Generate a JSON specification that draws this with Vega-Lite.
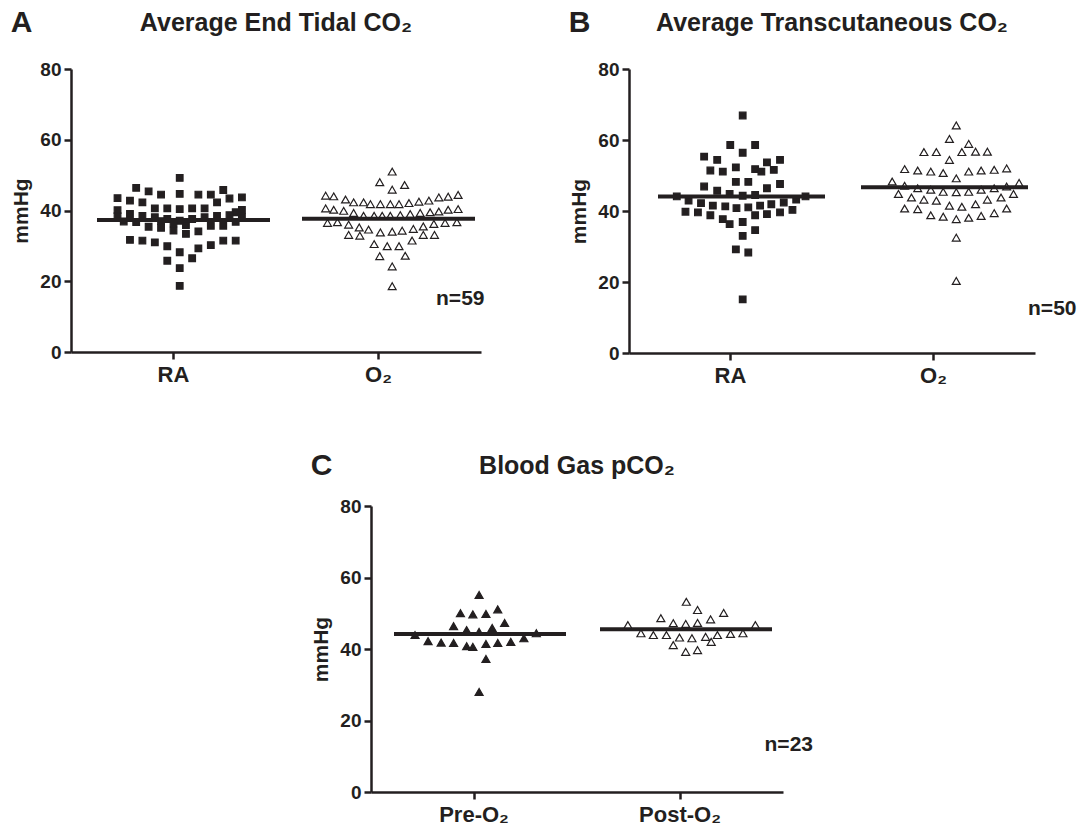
{
  "$schema": "https://vega.github.io/schema/vega-lite/v6.json",
  "background": "white",
  "padding": {"left": 10, "top": 8, "right": 4, "bottom": 4},
  "spacing": 65,
  "datasets": {
    "A": [
      {"group":"RA","k":1,"v":49.2},{"group":"RA","k":-6,"v":46.4},{"group":"RA","k":-4,"v":45.4},{"group":"RA","k":8,"v":45.8},
      {"group":"RA","k":-2,"v":44.5},{"group":"RA","k":1,"v":44.7},{"group":"RA","k":4,"v":44.5},{"group":"RA","k":6,"v":44.5},
      {"group":"RA","k":9,"v":43.4},{"group":"RA","k":11,"v":43.7},{"group":"RA","k":-9,"v":43.5},{"group":"RA","k":-7,"v":42.8},
      {"group":"RA","k":-5,"v":42.3},{"group":"RA","k":7,"v":42.3},{"group":"RA","k":-3,"v":40.6},{"group":"RA","k":-1,"v":40.6},
      {"group":"RA","k":1,"v":40.4},{"group":"RA","k":3,"v":40.6},{"group":"RA","k":5,"v":40.6},{"group":"RA","k":-9,"v":40.1},
      {"group":"RA","k":11,"v":40.2},{"group":"RA","k":10,"v":39.5},{"group":"RA","k":-7,"v":39.0},{"group":"RA","k":-5,"v":38.5},
      {"group":"RA","k":-3,"v":38.1},{"group":"RA","k":-1,"v":37.6},{"group":"RA","k":1,"v":37.1},{"group":"RA","k":3,"v":37.6},
      {"group":"RA","k":5,"v":38.1},{"group":"RA","k":7,"v":38.5},{"group":"RA","k":9,"v":38.7},{"group":"RA","k":-9,"v":38.4},
      {"group":"RA","k":-6,"v":36.7},{"group":"RA","k":-4,"v":35.4},{"group":"RA","k":-2,"v":35.1},{"group":"RA","k":0,"v":34.3},
      {"group":"RA","k":2,"v":33.4},{"group":"RA","k":4,"v":34.1},{"group":"RA","k":6,"v":35.7},{"group":"RA","k":8,"v":35.7},
      {"group":"RA","k":-7,"v":31.7},{"group":"RA","k":-5,"v":31.5},{"group":"RA","k":-3,"v":31.0},{"group":"RA","k":-1,"v":29.9},
      {"group":"RA","k":1,"v":28.2},{"group":"RA","k":4,"v":29.3},{"group":"RA","k":6,"v":30.2},{"group":"RA","k":8,"v":31.5},
      {"group":"RA","k":10,"v":31.5},{"group":"RA","k":-1,"v":25.8},{"group":"RA","k":3,"v":26.5},{"group":"RA","k":1,"v":23.7},
      {"group":"RA","k":1,"v":18.7},{"group":"RA","k":11,"v":38.2},{"group":"RA","k":-8,"v":36.9},{"group":"RA","k":0,"v":36.4},
      {"group":"RA","k":2,"v":35.9},{"group":"RA","k":-2,"v":37.0},{"group":"RA","k":10,"v":36.8},
      {"group":"O₂","k":2.2,"v":51.0},{"group":"O₂","k":0.2,"v":48.0},{"group":"O₂","k":2.2,"v":45.9},{"group":"O₂","k":4.2,"v":47.2},
      {"group":"O₂","k":-8.5,"v":44.2},{"group":"O₂","k":-7.2,"v":44.0},{"group":"O₂","k":-5.3,"v":43.1},{"group":"O₂","k":-4.0,"v":42.3},
      {"group":"O₂","k":-2.4,"v":42.3},{"group":"O₂","k":-1.3,"v":41.8},{"group":"O₂","k":0.3,"v":41.8},{"group":"O₂","k":1.9,"v":41.8},
      {"group":"O₂","k":3.3,"v":41.8},{"group":"O₂","k":4.9,"v":42.1},{"group":"O₂","k":6.5,"v":42.5},{"group":"O₂","k":8.1,"v":42.8},
      {"group":"O₂","k":9.7,"v":43.7},{"group":"O₂","k":11.2,"v":43.9},{"group":"O₂","k":12.8,"v":44.4},
      {"group":"O₂","k":-8.5,"v":40.6},{"group":"O₂","k":-7.2,"v":40.2},{"group":"O₂","k":-5.6,"v":39.9},{"group":"O₂","k":-4.0,"v":39.3},
      {"group":"O₂","k":-2.4,"v":38.5},{"group":"O₂","k":-0.7,"v":38.5},{"group":"O₂","k":0.6,"v":38.5},{"group":"O₂","k":1.9,"v":38.5},
      {"group":"O₂","k":3.5,"v":38.7},{"group":"O₂","k":5.1,"v":39.0},{"group":"O₂","k":6.7,"v":39.3},{"group":"O₂","k":8.3,"v":39.5},
      {"group":"O₂","k":9.7,"v":39.7},{"group":"O₂","k":11.2,"v":40.2},{"group":"O₂","k":12.8,"v":40.4},
      {"group":"O₂","k":-8.2,"v":36.5},{"group":"O₂","k":-6.6,"v":36.7},{"group":"O₂","k":-4.8,"v":36.0},{"group":"O₂","k":-3.1,"v":35.2},
      {"group":"O₂","k":-1.6,"v":34.6},{"group":"O₂","k":0.3,"v":33.8},{"group":"O₂","k":2.2,"v":34.0},{"group":"O₂","k":3.8,"v":34.3},
      {"group":"O₂","k":5.6,"v":34.8},{"group":"O₂","k":7.2,"v":35.5},{"group":"O₂","k":8.9,"v":36.2},{"group":"O₂","k":10.7,"v":36.5},
      {"group":"O₂","k":12.6,"v":36.7},
      {"group":"O₂","k":-4.8,"v":33.1},{"group":"O₂","k":-3.0,"v":32.9},{"group":"O₂","k":7.2,"v":33.1},{"group":"O₂","k":9.0,"v":33.1},
      {"group":"O₂","k":-0.7,"v":30.5},{"group":"O₂","k":1.4,"v":29.9},{"group":"O₂","k":3.3,"v":29.9},{"group":"O₂","k":5.4,"v":31.5},
      {"group":"O₂","k":0.2,"v":27.1},{"group":"O₂","k":4.3,"v":27.2},{"group":"O₂","k":2.2,"v":24.2},{"group":"O₂","k":2.2,"v":18.6}
    ],
    "B": [
      {"group":"RA","k":1.8,"v":66.9},{"group":"RA","k":-0.2,"v":58.6},{"group":"RA","k":3.8,"v":58.6},{"group":"RA","k":1.8,"v":56.4},
      {"group":"RA","k":-4.4,"v":55.3},{"group":"RA","k":-2.3,"v":54.4},{"group":"RA","k":5.7,"v":53.7},{"group":"RA","k":7.8,"v":54.4},
      {"group":"RA","k":-3.4,"v":51.4},{"group":"RA","k":-1.4,"v":51.1},{"group":"RA","k":0.7,"v":52.3},{"group":"RA","k":3.8,"v":51.8},
      {"group":"RA","k":4.8,"v":51.1},{"group":"RA","k":6.8,"v":51.6},{"group":"RA","k":0.7,"v":48.2},{"group":"RA","k":2.7,"v":48.2},
      {"group":"RA","k":-4.4,"v":46.9},{"group":"RA","k":7.8,"v":47.6},{"group":"RA","k":5.7,"v":46.4},{"group":"RA","k":-2.3,"v":45.7},
      {"group":"RA","k":-8.8,"v":44.1},{"group":"RA","k":11.9,"v":44.1},{"group":"RA","k":-0.3,"v":44.8},{"group":"RA","k":1.8,"v":44.3},
      {"group":"RA","k":3.8,"v":44.5},{"group":"RA","k":-6.9,"v":42.9},{"group":"RA","k":-4.9,"v":42.2},{"group":"RA","k":10.4,"v":43.2},
      {"group":"RA","k":8.4,"v":42.4},{"group":"RA","k":-7.4,"v":39.8},{"group":"RA","k":-5.4,"v":39.6},{"group":"RA","k":-3.0,"v":41.5},
      {"group":"RA","k":-1.0,"v":41.3},{"group":"RA","k":0.8,"v":40.8},{"group":"RA","k":2.7,"v":41.0},{"group":"RA","k":4.6,"v":41.5},
      {"group":"RA","k":6.4,"v":41.9},{"group":"RA","k":-3.4,"v":38.8},{"group":"RA","k":3.8,"v":38.8},{"group":"RA","k":5.7,"v":39.1},
      {"group":"RA","k":7.8,"v":39.6},{"group":"RA","k":9.8,"v":40.3},{"group":"RA","k":-1.4,"v":37.7},{"group":"RA","k":-0.3,"v":36.3},
      {"group":"RA","k":1.8,"v":36.9},{"group":"RA","k":3.8,"v":34.6},{"group":"RA","k":1.8,"v":33.0},{"group":"RA","k":0.7,"v":29.2},
      {"group":"RA","k":2.7,"v":28.3},{"group":"RA","k":1.8,"v":15.1},
      {"group":"O₂","k":3.5,"v":64.1},{"group":"O₂","k":2.4,"v":60.3},{"group":"O₂","k":5.5,"v":58.9},{"group":"O₂","k":-1.7,"v":56.6},
      {"group":"O₂","k":0.3,"v":56.6},{"group":"O₂","k":4.4,"v":56.6},{"group":"O₂","k":6.6,"v":56.7},{"group":"O₂","k":8.5,"v":56.7},
      {"group":"O₂","k":2.4,"v":54.4},{"group":"O₂","k":-4.8,"v":51.8},{"group":"O₂","k":-2.7,"v":51.4},{"group":"O₂","k":-0.6,"v":51.1},
      {"group":"O₂","k":1.4,"v":50.7},{"group":"O₂","k":5.5,"v":51.1},{"group":"O₂","k":7.5,"v":51.4},{"group":"O₂","k":9.6,"v":51.6},
      {"group":"O₂","k":11.6,"v":52.0},{"group":"O₂","k":3.5,"v":49.2},{"group":"O₂","k":-6.8,"v":48.3},{"group":"O₂","k":13.6,"v":47.9},
      {"group":"O₂","k":-4.8,"v":47.1},{"group":"O₂","k":-2.7,"v":46.4},{"group":"O₂","k":-0.6,"v":46.0},{"group":"O₂","k":1.4,"v":45.4},
      {"group":"O₂","k":3.5,"v":45.3},{"group":"O₂","k":5.5,"v":45.4},{"group":"O₂","k":7.5,"v":46.0},{"group":"O₂","k":9.6,"v":46.4},
      {"group":"O₂","k":11.6,"v":46.9},{"group":"O₂","k":-5.8,"v":44.8},{"group":"O₂","k":12.7,"v":44.8},{"group":"O₂","k":-3.7,"v":43.8},
      {"group":"O₂","k":-1.7,"v":43.2},{"group":"O₂","k":0.3,"v":42.9},{"group":"O₂","k":8.5,"v":43.2},{"group":"O₂","k":10.7,"v":43.8},
      {"group":"O₂","k":2.4,"v":41.5},{"group":"O₂","k":4.4,"v":41.2},{"group":"O₂","k":6.6,"v":41.9},{"group":"O₂","k":-4.8,"v":40.7},
      {"group":"O₂","k":-2.7,"v":40.5},{"group":"O₂","k":11.6,"v":40.7},{"group":"O₂","k":-0.6,"v":38.8},{"group":"O₂","k":1.4,"v":38.4},
      {"group":"O₂","k":3.5,"v":37.7},{"group":"O₂","k":5.5,"v":38.1},{"group":"O₂","k":7.5,"v":38.6},{"group":"O₂","k":9.6,"v":39.4},
      {"group":"O₂","k":3.5,"v":32.5},{"group":"O₂","k":3.5,"v":20.3}
    ],
    "C": [
      {"group":"Pre-O₂","k":0.9,"v":55.1},{"group":"Pre-O₂","k":-2.1,"v":50.0},{"group":"Pre-O₂","k":-0.1,"v":49.7},{"group":"Pre-O₂","k":2.0,"v":49.8},
      {"group":"Pre-O₂","k":3.9,"v":51.1},{"group":"Pre-O₂","k":-3.2,"v":46.4},{"group":"Pre-O₂","k":5.0,"v":47.3},{"group":"Pre-O₂","k":-1.1,"v":45.3},
      {"group":"Pre-O₂","k":3.0,"v":45.9},{"group":"Pre-O₂","k":0.9,"v":44.8},{"group":"Pre-O₂","k":-9.4,"v":43.9},{"group":"Pre-O₂","k":10.1,"v":44.4},
      {"group":"Pre-O₂","k":8.1,"v":43.0},{"group":"Pre-O₂","k":-7.3,"v":42.2},{"group":"Pre-O₂","k":-5.2,"v":41.8},{"group":"Pre-O₂","k":-3.2,"v":41.7},
      {"group":"Pre-O₂","k":-1.1,"v":40.8},{"group":"Pre-O₂","k":-0.1,"v":40.6},{"group":"Pre-O₂","k":2.0,"v":41.4},{"group":"Pre-O₂","k":3.9,"v":41.7},
      {"group":"Pre-O₂","k":6.0,"v":42.0},{"group":"Pre-O₂","k":2.0,"v":37.2},{"group":"Pre-O₂","k":0.9,"v":28.0},
      {"group":"Post-O₂","k":1.1,"v":53.2},{"group":"Post-O₂","k":2.9,"v":50.9},{"group":"Post-O₂","k":7.1,"v":50.1},{"group":"Post-O₂","k":-3.0,"v":48.6},
      {"group":"Post-O₂","k":5.0,"v":48.3},{"group":"Post-O₂","k":-1.0,"v":47.2},{"group":"Post-O₂","k":1.0,"v":47.0},{"group":"Post-O₂","k":2.9,"v":47.3},
      {"group":"Post-O₂","k":-8.3,"v":46.7},{"group":"Post-O₂","k":12.2,"v":46.7},{"group":"Post-O₂","k":-6.2,"v":44.4},{"group":"Post-O₂","k":-4.2,"v":43.9},
      {"group":"Post-O₂","k":-2.1,"v":43.9},{"group":"Post-O₂","k":0.0,"v":43.2},{"group":"Post-O₂","k":2.0,"v":43.0},{"group":"Post-O₂","k":4.2,"v":43.4},
      {"group":"Post-O₂","k":6.1,"v":43.9},{"group":"Post-O₂","k":8.2,"v":44.2},{"group":"Post-O₂","k":10.2,"v":44.4},{"group":"Post-O₂","k":5.1,"v":42.0},
      {"group":"Post-O₂","k":-1.0,"v":41.1},{"group":"Post-O₂","k":1.0,"v":39.2},{"group":"Post-O₂","k":2.9,"v":39.7}
    ],
    "meanA": [{"group":"RA","v":37.3},{"group":"O₂","v":37.7}],
    "meanB": [{"group":"RA","v":44.1},{"group":"O₂","v":46.7}],
    "meanC": [{"group":"Pre-O₂","v":44.2},{"group":"Post-O₂","v":45.5}]
  },
  "vconcat": [
    {
      "spacing": 83,
      "hconcat": [
        {
          "title": {"text": "A", "anchor": "start", "fontSize": 30, "offset": -27},
          "hconcat": [
            {
              "width": 410, "height": 283,
              "title": {"text": "Average End Tidal CO₂", "offset": 24},
              "layer": [
                {
                  "data": {"name": "A"},
                  "mark": {"type": "point", "filled": true, "opacity": 1, "stroke": "#231f20", "strokeWidth": 1.2},
                  "encoding": {
                    "x": {"field": "group", "type": "nominal", "sort": ["RA", "O₂"], "scale": {"paddingInner": 0, "paddingOuter": 0}, "axis": {"title": null}},
                    "xOffset": {"field": "k", "type": "quantitative", "scale": {"domain": [-16.4, 16.4], "nice": false, "zero": false}},
                    "y": {"field": "v", "type": "quantitative", "scale": {"domain": [0, 80], "nice": false}, "axis": {"title": "mmHg", "values": [0, 20, 40, 60, 80]}},
                    "shape": {"field": "group", "type": "nominal", "scale": {"domain": ["RA", "O₂"], "range": ["square", "triangle-up"]}, "legend": null},
                    "fill": {"field": "group", "type": "nominal", "scale": {"domain": ["RA", "O₂"], "range": ["#231f20", "#ffffff"]}, "legend": null},
                    "size": {"field": "group", "type": "nominal", "scale": {"domain": ["RA", "O₂"], "range": [44, 62]}, "legend": null}
                  }
                },
                {
                  "data": {"name": "meanA"},
                  "mark": {"type": "tick", "thickness": 4, "size": 173, "xOffset": 10, "color": "#231f20", "opacity": 1},
                  "encoding": {
                    "x": {"field": "group", "type": "nominal", "sort": ["RA", "O₂"]},
                    "y": {"field": "v", "type": "quantitative"}
                  }
                },
                {
                  "data": {"values": [{"label": "n=59"}]},
                  "mark": {"type": "text", "align": "right", "baseline": "middle", "dx": 106, "fontSize": 21, "fontWeight": "bold", "color": "#231f20"},
                  "encoding": {"x": {"datum": "O₂"}, "y": {"datum": 15}, "text": {"field": "label"}}
                }
              ]
            }
          ]
        },
        {
          "title": {"text": "B", "anchor": "start", "fontSize": 30, "offset": -27},
          "hconcat": [
            {
              "width": 406, "height": 284,
              "title": {"text": "Average Transcutaneous CO₂", "offset": 24},
              "layer": [
                {
                  "data": {"name": "B"},
                  "mark": {"type": "point", "filled": true, "opacity": 1, "stroke": "#231f20", "strokeWidth": 1.2},
                  "encoding": {
                    "x": {"field": "group", "type": "nominal", "sort": ["RA", "O₂"], "scale": {"paddingInner": 0, "paddingOuter": 0}, "axis": {"title": null}},
                    "xOffset": {"field": "k", "type": "quantitative", "scale": {"domain": [-16.24, 16.24], "nice": false, "zero": false}},
                    "y": {"field": "v", "type": "quantitative", "scale": {"domain": [0, 80], "nice": false}, "axis": {"title": "mmHg", "values": [0, 20, 40, 60, 80]}},
                    "shape": {"field": "group", "type": "nominal", "scale": {"domain": ["RA", "O₂"], "range": ["square", "triangle-up"]}, "legend": null},
                    "fill": {"field": "group", "type": "nominal", "scale": {"domain": ["RA", "O₂"], "range": ["#231f20", "#ffffff"]}, "legend": null},
                    "size": {"field": "group", "type": "nominal", "scale": {"domain": ["RA", "O₂"], "range": [48, 62]}, "legend": null}
                  }
                },
                {
                  "data": {"name": "meanB"},
                  "mark": {"type": "tick", "thickness": 4, "size": 167, "xOffset": 11, "color": "#231f20", "opacity": 1},
                  "encoding": {
                    "x": {"field": "group", "type": "nominal", "sort": ["RA", "O₂"]},
                    "y": {"field": "v", "type": "quantitative"}
                  }
                },
                {
                  "data": {"values": [{"label": "n=50"}]},
                  "mark": {"type": "text", "align": "right", "baseline": "middle", "dx": 143, "fontSize": 21, "fontWeight": "bold", "color": "#231f20"},
                  "encoding": {"x": {"datum": "O₂"}, "y": {"datum": 12.3}, "text": {"field": "label"}}
                }
              ]
            }
          ]
        }
      ]
    },
    {
      "spacing": 0,
      "hconcat": [
        {
          "width": 239, "height": 10,
          "data": {"values": []},
          "mark": {"type": "point", "opacity": 0}
        },
        {
          "title": {"text": "C", "anchor": "start", "fontSize": 30, "offset": -27},
          "hconcat": [
            {
              "width": 412, "height": 286,
              "title": {"text": "Blood Gas pCO₂", "offset": 18},
              "layer": [
                {
                  "data": {"name": "C"},
                  "mark": {"type": "point", "filled": true, "opacity": 1, "stroke": "#231f20", "strokeWidth": 1.2},
                  "encoding": {
                    "x": {"field": "group", "type": "nominal", "sort": ["Pre-O₂", "Post-O₂"], "scale": {"paddingInner": 0, "paddingOuter": 0}, "axis": {"title": null}},
                    "xOffset": {"field": "k", "type": "quantitative", "scale": {"domain": [-16.48, 16.48], "nice": false, "zero": false}},
                    "y": {"field": "v", "type": "quantitative", "scale": {"domain": [0, 80], "nice": false}, "axis": {"title": "mmHg", "values": [0, 20, 40, 60, 80]}},
                    "shape": {"value": "triangle-up"},
                    "fill": {"field": "group", "type": "nominal", "scale": {"domain": ["Pre-O₂", "Post-O₂"], "range": ["#231f20", "#ffffff"]}, "legend": null},
                    "size": {"value": 64}
                  }
                },
                {
                  "data": {"name": "meanC"},
                  "mark": {"type": "tick", "thickness": 4, "size": 172, "xOffset": 6, "color": "#231f20", "opacity": 1},
                  "encoding": {
                    "x": {"field": "group", "type": "nominal", "sort": ["Pre-O₂", "Post-O₂"]},
                    "y": {"field": "v", "type": "quantitative"}
                  }
                },
                {
                  "data": {"values": [{"label": "n=23"}]},
                  "mark": {"type": "text", "align": "right", "baseline": "middle", "dx": 133, "fontSize": 21, "fontWeight": "bold", "color": "#231f20"},
                  "encoding": {"x": {"datum": "Post-O₂"}, "y": {"datum": 13.1}, "text": {"field": "label"}}
                }
              ]
            }
          ]
        }
      ]
    }
  ],
  "config": {
    "font": "Liberation Sans",
    "view": {"stroke": null},
    "title": {"font": "Liberation Sans", "fontWeight": "bold", "fontSize": 25, "color": "#231f20"},
    "axis": {
      "grid": false,
      "domainColor": "#231f20", "domainWidth": 2.5,
      "tickColor": "#231f20", "tickWidth": 2.5, "tickSize": 7,
      "labelColor": "#231f20", "labelFont": "Liberation Sans", "labelFontWeight": "bold",
      "titleColor": "#231f20", "titleFont": "Liberation Sans", "titleFontWeight": "bold"
    },
    "axisX": {"labelFontSize": 22, "labelAngle": 0, "labelPadding": 5},
    "axisY": {"labelFontSize": 19, "titleFontSize": 21, "labelPadding": 3, "titlePadding": 8}
  }
}
